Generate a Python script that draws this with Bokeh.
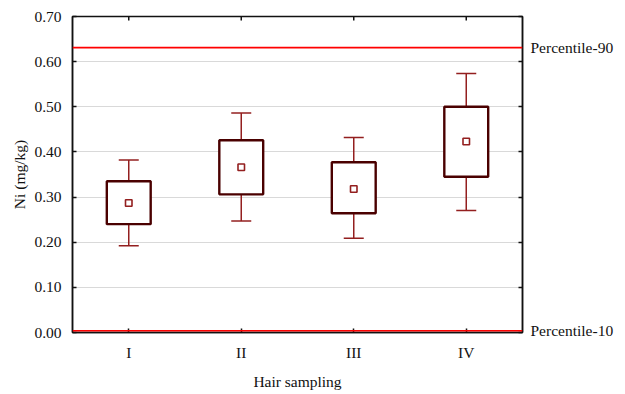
import math
from bokeh.plotting import figure
from bokeh.models import (FixedTicker, LinearAxis, Span, ColumnDataSource,
                          PrintfTickFormatter, Range1d, Whisker, TeeHead)
from bokeh.embed import file_html
from bokeh.resources import INLINE

# ---- data ----
groups = ["I", "II", "III", "IV"]
whisker_low = [0.192, 0.247, 0.209, 0.270]
box_low = [0.240, 0.306, 0.264, 0.345]
mean_val = [0.287, 0.366, 0.318, 0.423]
box_high = [0.335, 0.426, 0.377, 0.500]
whisker_high = [0.382, 0.486, 0.432, 0.574]
percentile_values = [0.004, 0.631]
percentile_labels = ["Percentile-10", "Percentile-90"]
y_ticks = [0.0, 0.1, 0.2, 0.3, 0.4, 0.5, 0.6, 0.7]

FONT = "Liberation Serif"
FS = "15.5px"
BOX_COL = "#4a0000"
WH_COL = "#931f1f"
AX_COL = "#111111"

src = ColumnDataSource(dict(g=groups, wl=whisker_low, bl=box_low, m=mean_val,
                            bh=box_high, wh=whisker_high,
                            top=[y_ticks[-1]] * len(groups)))

p = figure(x_range=groups, y_range=Range1d(y_ticks[0], y_ticks[-1]), width=617, height=392,
           output_backend="svg", toolbar_location=None,
           min_border_left=72, min_border_right=95, min_border_top=16, min_border_bottom=58)
p.x_range.range_padding = 0

# top axis ticks (inward), clipped by the frame
p.scatter(x="g", y="top", source=src, marker="dash", angle=math.pi / 2, size=8,
          line_color=AX_COL, line_width=1.5)

# whiskers
upper = Whisker(base="g", lower="bh", upper="wh", source=src, dimension="height",
                line_color=WH_COL, line_width=1.5, lower_head=None,
                upper_head=TeeHead(size=20, line_color=WH_COL, line_width=1.5),
                level="underlay")
lower = Whisker(base="g", lower="wl", upper="bl", source=src, dimension="height",
                line_color=WH_COL, line_width=1.5, upper_head=None,
                lower_head=TeeHead(size=20, line_color=WH_COL, line_width=1.5),
                level="underlay")
p.add_layout(upper)
p.add_layout(lower)

# boxes
p.vbar(x="g", top="bh", bottom="bl", width=0.39, source=src, fill_color="white",
       line_color=BOX_COL, line_width=2.4)
# mean markers
p.scatter(x="g", y="m", source=src, marker="square", size=6.5, fill_color="white",
          line_color=WH_COL, line_width=1.6)

# percentile lines
for v in percentile_values:
    p.add_layout(Span(location=v, dimension="width", line_color="#ff0000", line_width=1.6))

# grid
p.xgrid.visible = False
p.ygrid.ticker = FixedTicker(ticks=y_ticks)
p.ygrid.grid_line_color = "#d9d9d9"
p.ygrid.grid_line_width = 1

p.outline_line_color = AX_COL
p.outline_line_width = 1.5

def style(ax):
    ax.axis_line_color = AX_COL
    ax.axis_line_width = 1.5
    ax.major_tick_in = 4
    ax.major_tick_out = 0
    ax.minor_tick_in = 0
    ax.minor_tick_out = 0
    ax.major_tick_line_color = AX_COL
    ax.major_tick_line_width = 1.5
    ax.major_label_text_font = FONT
    ax.major_label_text_font_size = FS
    ax.major_label_text_color = AX_COL
    ax.axis_label_text_font = FONT
    ax.axis_label_text_font_size = FS
    ax.axis_label_text_font_style = "normal"
    ax.axis_label_text_color = AX_COL

# left
yl = p.yaxis[0]
style(yl)
yl.ticker = FixedTicker(ticks=y_ticks)
yl.formatter = PrintfTickFormatter(format="%.2f")
yl.axis_label = "Ni (mg/kg)"
yl.major_label_standoff = 11
yl.axis_label_standoff = 3

# bottom
xb = p.xaxis[0]
style(xb)
xb.axis_label = "Hair sampling"
xb.major_label_standoff = 11
xb.axis_label_standoff = 9

# right
yr = LinearAxis(ticker=FixedTicker(ticks=percentile_values, minor_ticks=y_ticks))
style(yr)
yr.major_tick_in = 0
yr.minor_tick_in = 4
yr.minor_tick_line_color = AX_COL
yr.minor_tick_line_width = 1.5
yr.major_label_overrides = {v: t for v, t in zip(percentile_values, percentile_labels)}
yr.major_label_standoff = 8
p.add_layout(yr, "right")

open("out.html", "w").write(file_html(p, INLINE))
